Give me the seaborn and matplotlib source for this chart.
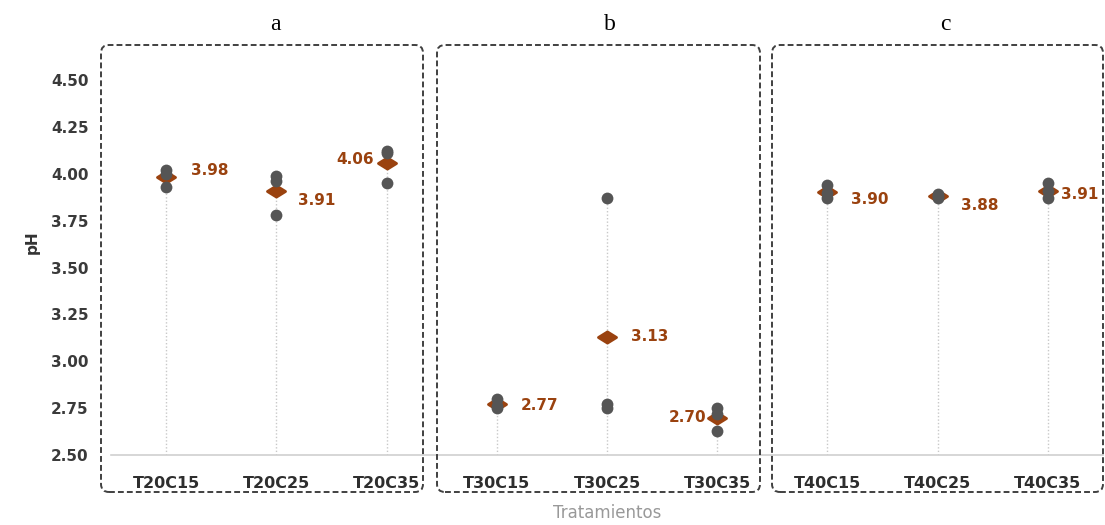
import numpy as np
import pandas as pd
import matplotlib
matplotlib.use('Agg')
import matplotlib.pyplot as plt
import matplotlib.path as mpath
from matplotlib.patches import FancyBboxPatch
import seaborn as sns

# Datos: pH por tratamiento (3 repeticiones)
tratamientos = ['T20C15', 'T20C25', 'T20C35',
                'T30C15', 'T30C25', 'T30C35',
                'T40C15', 'T40C25', 'T40C35']
rep1 = [4.02, 3.99, 4.12, 2.80, 3.87, 2.75, 3.94, 3.89, 3.95]
rep2 = [4.00, 3.96, 4.11, 2.76, 2.77, 2.72, 3.90, 3.88, 3.91]
rep3 = [3.93, 3.78, 3.95, 2.75, 2.75, 2.63, 3.87, 3.87, 3.87]
grupos = ['a', 'b', 'c']
y_ticks = [2.50, 2.75, 3.00, 3.25, 3.50, 3.75, 4.00, 4.25, 4.50]

# desplazamiento de etiquetas (pixeles)
lbl_dx = [44, 40, -31, 43, 43, -30, 42, 42, 32]
lbl_dy = [6, -10, 3, -1, 0, 0, -8, -9, -4]

gris_punto = '#555555'
marron = '#9a420f'

df = pd.DataFrame({
    'Tratamiento': tratamientos * 3,
    'pH': rep1 + rep2 + rep3,
})
medias = df.groupby('Tratamiento', sort=False)['pH'].mean()
maximos = df.groupby('Tratamiento', sort=False)['pH'].max()

sns.set_theme(style='white')
plt.rcParams['font.family'] = ['DejaVu Sans']

W, H = 1105, 525
fig = plt.figure(figsize=(W / 100, H / 100), dpi=100)
ax = fig.add_axes([111 / W, 1 - 455 / H, (1103 - 111) / W, (455 - 52) / H])

# tallos punteados
ax.vlines(range(len(tratamientos)), 2.5, maximos.loc[tratamientos].values,
          colors='#c8c8c8', linestyles=(0, (1, 1.5)), linewidth=1, zorder=1)

# media (rombo)
rombo = mpath.Path([(-1, 0), (0, 0.62), (1, 0), (0, -0.62), (-1, 0)],
                   [1, 2, 2, 2, 79])
sns.pointplot(data=df, x='Tratamiento', y='pH', order=tratamientos,
              estimator='mean', errorbar=None, linestyle='none',
              marker=rombo, markersize=13, color=marron, ax=ax)

# repeticiones
sns.stripplot(data=df, x='Tratamiento', y='pH', order=tratamientos,
              jitter=False, size=8.5, color=gris_punto, linewidth=0, ax=ax)

for ln in ax.lines:
    ln.set_zorder(2)
for c in ax.collections[1:]:
    c.set_zorder(4)

for i, t in enumerate(tratamientos):
    m = medias[t]
    ax.annotate(f'{m:.2f}', xy=(i, m), xytext=(lbl_dx[i], lbl_dy[i]),
                textcoords='offset pixels', ha='center', va='center',
                fontsize=11, fontweight='bold', color=marron, zorder=5)

ax.set_xlim(-0.5, len(tratamientos) - 0.5)
ax.set_ylim(2.5, 4.65)
ax.set_yticks(y_ticks)
ax.set_yticklabels([f'{v:.2f}' for v in y_ticks])
for s in ['top', 'right', 'left']:
    ax.spines[s].set_visible(False)
ax.spines['bottom'].set_color('#d0d0d0')
ax.spines['bottom'].set_linewidth(1.2)
ax.tick_params(axis='y', length=0, pad=16, labelsize=11, labelcolor='#3a3a3a')
ax.tick_params(axis='x', length=0, pad=15, labelsize=11.5, labelcolor='#2e2e2e')
for lab in ax.get_xticklabels() + ax.get_yticklabels():
    lab.set_fontweight('bold')
ax.set_xlabel('')
ax.set_ylabel('')
ax.patch.set_alpha(0)

fig.text(32 / W, 1 - 242 / H, 'pH', rotation=90, ha='center', va='center',
         fontsize=11, fontweight='bold', color='#333333')
fig.text(607 / W, 1 - 513 / H, 'Tratamientos', ha='center', va='center',
         fontsize=12, color='#999999')

# recuadros punteados de cada grupo
cajas = [(101, 423), (437, 760), (772, 1103)]
centros = [275, 610, 945]
for (x0, x1), xc, g in zip(cajas, centros, grupos):
    caja = FancyBboxPatch((x0 / W, 1 - 492 / H), (x1 - x0) / W, (492 - 45) / H,
                          boxstyle='round,pad=0,rounding_size=%f' % (8 / W),
                          mutation_aspect=W / H, transform=fig.transFigure,
                          fill=False, edgecolor='#404040', linewidth=1.4,
                          linestyle=(0, (3, 1.6)), zorder=10)
    fig.add_artist(caja)
    fig.text(xc / W, 1 - 25 / H, g, ha='center', va='center', fontsize=17,
             family='Liberation Serif', color='black')

fig.savefig('out.png', dpi=100)
